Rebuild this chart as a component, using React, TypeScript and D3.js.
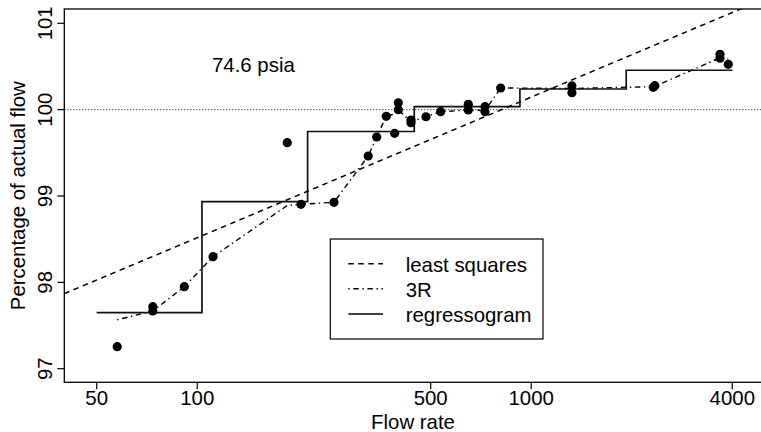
import React from "react";
import * as d3 from "d3";

// ---- data ----
const flowRate = [57.6, 73.6, 73.6, 91.5, 111.5, 186, 204.5, 256.7, 325, 344.6, 368, 390, 400, 400, 436.5, 436.5, 484, 535.6, 648, 648, 727, 727, 810, 1324, 1324, 2320, 2345, 3675, 3675, 3890];
const pctActual = [97.255, 97.718, 97.668, 97.95, 98.297, 99.617, 98.904, 98.927, 99.463, 99.683, 99.923, 99.726, 100.08, 100.0, 99.88, 99.849, 99.918, 99.976, 100.062, 99.996, 100.034, 99.976, 100.251, 100.275, 100.197, 100.258, 100.278, 100.641, 100.595, 100.525];

// 3R resistant smooth
const smoothX = [57.6, 73.6, 91.5, 111.5, 186, 204.5, 256.7, 325, 344.6, 368, 390, 400, 436.5, 484, 535.6, 648, 727, 810, 1324, 2332, 3675, 3890];
const smoothY = [97.567, 97.668, 97.95, 98.297, 98.89, 98.904, 98.927, 99.463, 99.683, 99.923, 99.95, 100.0, 99.86, 99.918, 99.976, 99.996, 99.99, 100.251, 100.245, 100.266, 100.6, 100.585];

// least squares line: y = a + b * log10(x)
const lsIntercept = 95.261;
const lsSlope = 1.628;

// regressogram
const regBreaks = [50, 103.3, 214, 446.5, 925, 1925, 4000];
const regValues = [97.649, 98.934, 99.747, 100.036, 100.239, 100.456];

const xTicks = [50, 100, 500, 1000, 4000];
const yTicks = [97, 98, 99, 100, 101];

const legendItems = [
  { label: "least squares", dash: "5.5,4.5" },
  { label: "3R", dash: "1.4,3.6,5.5,3.6" },
  { label: "regressogram", dash: "none" },
];

// ---- layout ----
const W = 761;
const H = 432;
const box = { left: 64.3, top: 9, right: 762, bottom: 382.3 };
const FONT = "'Liberation Sans', Arial, Helvetica, sans-serif";
const FS = 20.4;

export default function App() {
  const x = d3.scaleLog().domain([50, 4000]).range([96.7, 732.3]);
  const y = d3.scaleLinear().domain([97, 101]).range([368.7, 23.3]);

  const xMin = x.invert(box.left);
  const xMax = x.invert(box.right);

  const line = d3
    .line<[number, number]>()
    .x((d) => x(d[0]))
    .y((d) => y(d[1]));

  const lsPts: [number, number][] = [xMin, xMax].map((v) => [v, lsIntercept + lsSlope * Math.log10(v)]);
  const smoothPts: [number, number][] = smoothX.map((v, i) => [v, smoothY[i]]);
  const regPts: [number, number][] = [];
  regValues.forEach((v, i) => {
    regPts.push([regBreaks[i], v]);
    regPts.push([regBreaks[i + 1], v]);
  });

  const legend = { x: 330.3, y: 239, w: 212.7, h: 100 };
  const legendRows = [263.7, 288.7, 314];

  return (
    <div style={{ position: "fixed", left: 0, top: 0, width: W, height: H, background: "#fff" }}>
      <svg width={W} height={H} style={{ display: "block" }} fontFamily={FONT}>
        <defs>
          <clipPath id="plotclip">
            <rect x={box.left} y={box.top} width={box.right - box.left} height={box.bottom - box.top} />
          </clipPath>
        </defs>
        <rect x={0} y={0} width={W} height={H} fill="#fff" />

        <g clipPath="url(#plotclip)" fill="none">
          {/* reference line at 100 */}
          <line x1={box.left} x2={box.right} y1={y(100)} y2={y(100)} stroke="#000" strokeWidth={1} strokeDasharray="1,2" />
          {/* least squares */}
          <path d={line(lsPts) || ""} stroke="#000" strokeWidth={1.5} strokeDasharray="5.5,4.5" />
          {/* 3R */}
          <path d={line(smoothPts) || ""} stroke="#000" strokeWidth={1.4} strokeDasharray="1.4,3.6,5.5,3.6" />
          {/* regressogram */}
          <path d={line(regPts) || ""} stroke="#111" strokeWidth={1.7} />
        </g>

        {/* points */}
        <g>
          {flowRate.map((v, i) => (
            <circle key={i} cx={x(v)} cy={y(pctActual[i])} r={4.6} fill="#000" />
          ))}
        </g>

        {/* plot box */}
        <rect
          x={box.left}
          y={box.top}
          width={box.right - box.left}
          height={box.bottom - box.top}
          fill="none"
          stroke="#000"
          strokeWidth={1.3}
        />

        {/* x axis */}
        <g>
          {xTicks.map((t) => (
            <g key={t}>
              <line x1={x(t)} x2={x(t)} y1={box.bottom} y2={box.bottom + 7} stroke="#000" strokeWidth={1.2} />
              <text x={x(t)} y={405.3} textAnchor="middle" fontSize={FS} fill="#000">
                {t}
              </text>
            </g>
          ))}
          <text x={413} y={429} textAnchor="middle" fontSize={FS} fill="#000">
            Flow rate
          </text>
        </g>

        {/* y axis */}
        <g>
          {yTicks.map((t) => (
            <g key={t}>
              <line x1={box.left - 7} x2={box.left} y1={y(t)} y2={y(t)} stroke="#000" strokeWidth={1.2} />
              <text
                x={52}
                y={y(t)}
                transform={`rotate(-90, 52, ${y(t)})`}
                textAnchor="middle"
                fontSize={FS}
                fill="#000"
              >
                {t}
              </text>
            </g>
          ))}
          <text
            x={25}
            y={195.7}
            transform="rotate(-90, 25, 195.7)"
            textAnchor="middle"
            fontSize={FS}
            fill="#000"
          >
            Percentage of actual flow
          </text>
        </g>

        {/* annotation */}
        <text x={212} y={72} fontSize={FS} fill="#000">
          74.6 psia
        </text>

        {/* legend */}
        <g>
          <rect x={legend.x} y={legend.y} width={legend.w} height={legend.h} fill="#fff" stroke="#000" strokeWidth={1.2} />
          {legendItems.map((it, i) => (
            <g key={it.label}>
              <line
                x1={348.3}
                x2={383}
                y1={legendRows[i]}
                y2={legendRows[i]}
                stroke="#000"
                strokeWidth={i === 2 ? 1.7 : 1.4}
                strokeDasharray={it.dash}
              />
              <text x={405.7} y={legendRows[i] + 7.8} fontSize={FS} fill="#000">
                {it.label}
              </text>
            </g>
          ))}
        </g>
      </svg>
    </div>
  );
}
